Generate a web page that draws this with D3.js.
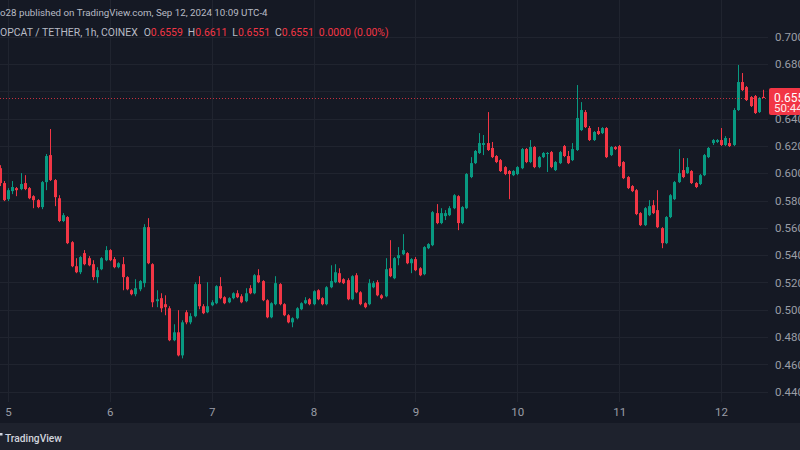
<!DOCTYPE html>
<html><head><meta charset="utf-8">
<script src="https://cdn.jsdelivr.net/npm/d3@7"></script>
<style>
html,body{margin:0;padding:0;background:#151924;}
svg{display:block;font-family:Roboto,"Noto Sans",sans-serif;}
</style></head>
<body><svg id="c" width="800" height="450"></svg>
<script>
// ---- data (POPCAT / TETHER, 1h, COINEX), first candle Sep 4 22:00 ----
const startHour = Date.UTC(2024, 8, 4, 22);
const opens = [0.6037,0.5928,0.5810,0.5869,0.5891,0.5884,0.5928,0.5891,0.5832,0.5803,0.5752,0.5935,0.6133,0.5950,0.5817,0.5650,0.5679,0.5495,0.5319,0.5275,0.5415,0.5378,0.5334,0.5239,0.5297,0.5363,
0.5437,0.5371,0.5312,0.5334,0.5239,0.5143,0.5114,0.5150,0.5195,0.5605,0.5334,0.5063,0.5085,0.5041,0.5011,0.4777,0.4835,0.4666,0.4982,0.4908,0.4953,0.5188,0.5026,0.4982,
0.5033,0.5048,0.5173,0.5092,0.5055,0.5085,0.5121,0.5099,0.5063,0.5158,0.5121,0.5253,0.5210,0.5070,0.4945,0.5041,0.5188,0.5041,0.4960,0.4908,0.4938,0.5004,0.5048,0.5077,
0.5041,0.5143,0.5085,0.5041,0.5165,0.5202,0.5268,0.5224,0.5217,0.5077,0.5253,0.5128,0.5048,0.5041,0.5165,0.5202,0.5106,0.5099,0.5304,0.5231,0.5378,0.5407,0.5415,0.5341,
0.5371,0.5304,0.5261,0.5451,0.5473,0.5708,0.5635,0.5686,0.5693,0.5744,0.5832,0.5635,0.5744,0.5972,0.6074,0.6148,0.6207,0.6221,0.6185,0.6126,0.6096,0.6045,0.6016,0.5986,
0.5994,0.6037,0.6177,0.6082,0.6192,0.6045,0.6118,0.6141,0.6155,0.6023,0.6074,0.6199,0.6126,0.6096,0.6170,0.6316,0.6448,0.6331,0.6243,0.6309,0.6294,0.6331,0.6133,0.6192,
0.6199,0.6082,0.5972,0.5906,0.5876,0.5708,0.5620,0.5693,0.5766,0.5730,0.5598,0.5488,0.5679,0.5810,0.5935,0.6023,0.6001,0.6016,0.5928,0.5921,0.5986,0.6118,0.6221,0.6229,
0.6243,0.6207,0.6221,0.6207,0.6463,0.6668,0.6631,0.6558,0.6565,0.6448,0.6559];
const highs = [0.6059,0.5943,0.5891,0.5943,0.5899,0.6001,0.5986,0.5899,0.5839,0.5810,0.5943,0.6141,0.6324,0.5957,0.5839,0.5708,0.5686,0.5503,0.5378,0.5393,0.5437,0.5393,0.5363,0.5312,0.5386,0.5466,
0.5444,0.5386,0.5348,0.5386,0.5246,0.5150,0.5224,0.5217,0.5627,0.5671,0.5341,0.5143,0.5121,0.5106,0.5026,0.4894,0.4997,0.4923,0.4997,0.4975,0.5202,0.5246,0.5041,0.5202,
0.5070,0.5180,0.5239,0.5099,0.5092,0.5128,0.5143,0.5114,0.5158,0.5180,0.5261,0.5297,0.5217,0.5077,0.5055,0.5246,0.5195,0.5048,0.4968,0.4945,0.5019,0.5055,0.5092,0.5085,
0.5143,0.5150,0.5092,0.5173,0.5326,0.5334,0.5304,0.5231,0.5231,0.5253,0.5268,0.5136,0.5055,0.5224,0.5210,0.5217,0.5114,0.5378,0.5510,0.5386,0.5459,0.5554,0.5422,0.5378,
0.5386,0.5312,0.5466,0.5488,0.5723,0.5774,0.5744,0.5730,0.5759,0.5847,0.5839,0.5759,0.6001,0.6118,0.6170,0.6294,0.6280,0.6448,0.6229,0.6133,0.6104,0.6052,0.6023,0.6023,
0.6052,0.6185,0.6185,0.6243,0.6199,0.6126,0.6155,0.6155,0.6163,0.6089,0.6163,0.6207,0.6163,0.6221,0.6646,0.6521,0.6463,0.6346,0.6309,0.6338,0.6338,0.6338,0.6199,0.6199,
0.6207,0.6089,0.5979,0.5913,0.5884,0.5715,0.5752,0.5803,0.5803,0.5876,0.5605,0.5686,0.5847,0.5943,0.6177,0.6111,0.6111,0.6023,0.5935,0.5994,0.6141,0.6192,0.6250,0.6250,
0.6331,0.6272,0.6258,0.6477,0.6793,0.6734,0.6639,0.6565,0.6573,0.6558,0.6611];
const lows = [0.5906,0.5796,0.5796,0.5847,0.5832,0.5876,0.5876,0.5810,0.5744,0.5744,0.5737,0.5876,0.5943,0.5759,0.5642,0.5642,0.5481,0.5312,0.5268,0.5261,0.5326,0.5319,0.5217,0.5195,0.5290,0.5356,
0.5356,0.5304,0.5304,0.5143,0.5143,0.5106,0.5099,0.5136,0.5165,0.5334,0.5019,0.5019,0.4982,0.4960,0.4770,0.4770,0.4659,0.4644,0.4894,0.4894,0.4945,0.5004,0.4968,0.4975,
0.5026,0.5041,0.5077,0.5041,0.5048,0.5077,0.5085,0.5048,0.5055,0.5114,0.5114,0.5195,0.5063,0.4938,0.4938,0.5033,0.5033,0.4953,0.4901,0.4872,0.4930,0.4997,0.5041,0.5033,
0.5033,0.5070,0.5033,0.5033,0.5158,0.5195,0.5195,0.5188,0.5070,0.5070,0.5121,0.5033,0.5011,0.5033,0.5158,0.5099,0.5077,0.5092,0.5239,0.5224,0.5326,0.5400,0.5334,0.5268,
0.5283,0.5246,0.5253,0.5444,0.5466,0.5627,0.5627,0.5657,0.5686,0.5737,0.5583,0.5627,0.5737,0.5964,0.6067,0.6141,0.6133,0.6163,0.6111,0.6074,0.6009,0.5986,0.5810,0.5979,
0.5986,0.6030,0.6074,0.6074,0.6037,0.6037,0.6111,0.6009,0.6037,0.6016,0.6067,0.6118,0.6067,0.6089,0.6163,0.6309,0.6331,0.6236,0.6236,0.6280,0.6287,0.6111,0.6126,0.6170,
0.6045,0.5957,0.5884,0.5862,0.5693,0.5613,0.5613,0.5686,0.5701,0.5598,0.5451,0.5481,0.5671,0.5803,0.5928,0.5964,0.5994,0.5921,0.5891,0.5913,0.5979,0.6111,0.6207,0.6221,
0.6199,0.6199,0.6192,0.6199,0.6456,0.6602,0.6529,0.6485,0.6434,0.6441,0.6551];
const closes = [0.5928,0.5803,0.5876,0.5899,0.5876,0.5921,0.5884,0.5817,0.5803,0.5752,0.5935,0.6126,0.5950,0.5825,0.5650,0.5693,0.5488,0.5319,0.5275,0.5386,0.5334,0.5326,0.5239,0.5290,0.5378,0.5437,
0.5363,0.5312,0.5341,0.5239,0.5150,0.5114,0.5158,0.5210,0.5605,0.5341,0.5055,0.5077,0.5011,0.5019,0.4777,0.4835,0.4666,0.4908,0.4908,0.4953,0.5188,0.5026,0.4975,0.5026,
0.5055,0.5173,0.5085,0.5048,0.5085,0.5121,0.5092,0.5055,0.5121,0.5121,0.5253,0.5202,0.5070,0.4945,0.5048,0.5195,0.5041,0.4960,0.4908,0.4938,0.5011,0.5048,0.5070,0.5041,
0.5136,0.5077,0.5041,0.5165,0.5210,0.5275,0.5202,0.5195,0.5077,0.5246,0.5128,0.5041,0.5019,0.5195,0.5195,0.5106,0.5085,0.5297,0.5246,0.5378,0.5400,0.5437,0.5341,0.5371,
0.5290,0.5253,0.5459,0.5481,0.5715,0.5635,0.5708,0.5708,0.5744,0.5839,0.5635,0.5752,0.5994,0.6074,0.6163,0.6221,0.6221,0.6170,0.6118,0.6082,0.6016,0.5994,0.5994,0.6016,
0.6045,0.6177,0.6082,0.6192,0.6045,0.6118,0.6148,0.6148,0.6045,0.6082,0.6155,0.6126,0.6074,0.6177,0.6404,0.6463,0.6338,0.6243,0.6302,0.6287,0.6331,0.6118,0.6192,0.6177,
0.6052,0.5964,0.5891,0.5869,0.5701,0.5620,0.5744,0.5759,0.5708,0.5605,0.5488,0.5679,0.5839,0.5935,0.6001,0.5972,0.6045,0.5928,0.5899,0.5986,0.6133,0.6185,0.6243,0.6243,
0.6207,0.6258,0.6199,0.6463,0.6668,0.6609,0.6536,0.6492,0.6441,0.6551,0.6551];
const yTicks = [0.44,0.46,0.48,0.50,0.52,0.54,0.56,0.58,0.60,0.62,0.64,0.66,0.68,0.70];
const dayTicks = [5,6,7,8,9,10,11,12];
const lastPrice = 0.6551;
const countdown = "50:44";
const headerTop = "o28 published on TradingView.com, Sep 12, 2024 10:09 UTC-4";
const symbolText = "OPCAT / TETHER, 1h, COINEX";
const ohlcLabels = ["O","H","L","C"];
const ohlcValues = ["0.6559","0.6611","0.6551","0.6551"];
const changeText = "0.0000 (0.00%)";

// ---- build ----
const W = 800, H = 450;
const GREEN = "#089981", RED = "#f23645";
const svg = d3.select("#c");
svg.append("rect").attr("width", W).attr("height", H).attr("fill", "#151924");

const candles = opens.map((o, i) => ({
  t: new Date(startHour + i * 3600e3), o, h: highs[i], l: lows[i], c: closes[i]
}));

const x = d3.scaleUtc()
  .domain([new Date(Date.UTC(2024, 8, 5)), new Date(Date.UTC(2024, 8, 12))])
  .range([8, 721]);
const y = d3.scaleLinear().domain([0.44, 0.70]).range([391.7, 36.7]);
const plotRight = 768;

// grid
const grid = svg.append("g").attr("stroke", "#20242f").attr("stroke-width", 1);
grid.selectAll("line.h").data(yTicks).join("line")
  .attr("x1", 0).attr("x2", plotRight)
  .attr("y1", d => Math.round(y(d)) + 0.5).attr("y2", d => Math.round(y(d)) + 0.5);
const dayDates = dayTicks.map(d => new Date(Date.UTC(2024, 8, d)));
grid.selectAll("line.v").data(dayDates).join("line")
  .attr("y1", 0).attr("y2", 402)
  .attr("x1", d => Math.round(x(d)) + 0.5).attr("x2", d => Math.round(x(d)) + 0.5);

// candles
const cg = svg.append("g");
const col = d => d.c >= d.o ? GREEN : RED;
cg.selectAll("line.w").data(candles).join("line")
  .attr("x1", d => Math.round(x(d.t)) + 0.5).attr("x2", d => Math.round(x(d.t)) + 0.5)
  .attr("y1", d => y(d.h)).attr("y2", d => y(d.l))
  .attr("stroke", col).attr("stroke-width", 1);
cg.selectAll("rect.b").data(candles).join("rect")
  .attr("x", d => Math.round(x(d.t)) - 1).attr("width", 3)
  .attr("y", d => y(Math.max(d.o, d.c)))
  .attr("height", d => Math.max(1, Math.abs(y(d.o) - y(d.c))))
  .attr("fill", col);

// last price dotted line
svg.append("line").attr("x1", 0).attr("x2", plotRight)
  .attr("y1", Math.round(y(lastPrice)) + 0.5).attr("y2", Math.round(y(lastPrice)) + 0.5)
  .attr("stroke", RED).attr("stroke-width", 1).attr("stroke-dasharray", "1,2").attr("opacity", 0.8);

// y axis (labels hidden behind the price box are dropped, like the reference)
const ly = y(lastPrice);
const yAxis = d3.axisRight(y).tickValues(yTicks).tickFormat(d3.format(".3f")).tickSize(0).tickPadding(7);
const ya = svg.append("g").attr("transform", `translate(${plotRight},0)`).call(yAxis);
ya.select(".domain").remove();
ya.selectAll("text").attr("fill", "#9a9da6").attr("font-size", 11.5).attr("font-family", "Roboto,sans-serif");

// x axis
const xAxis = d3.axisBottom(x).tickValues(dayDates).tickFormat(d3.utcFormat("%-d")).tickSize(0).tickPadding(6);
const xa = svg.append("g").attr("transform", "translate(0,402)").call(xAxis);
xa.select(".domain").remove();
xa.selectAll("text").attr("fill", "#9a9da6").attr("font-size", 11.5).attr("font-family", "Roboto,sans-serif");

// last price label
svg.append("rect").attr("x", plotRight + 1).attr("y", ly - 10).attr("width", W - plotRight).attr("height", 27)
  .attr("fill", RED).attr("rx", 2);
svg.append("text").attr("x", plotRight + 6).attr("y", ly + 4).attr("fill", "#ffffff")
  .attr("font-size", 12).text(lastPrice.toFixed(4));
svg.append("text").attr("x", plotRight + 6).attr("y", ly + 14).attr("fill", "#ffffff").attr("opacity", 0.9)
  .attr("font-size", 11.5).text(countdown);

// header
const h1 = svg.append("text").attr("x", 0).attr("y", 16).attr("fill", "#b8bbc4").attr("font-size", 12).text(headerTop);
const fit = (sel, target) => { const w = sel.node().getComputedTextLength(); const fs = +sel.attr("font-size"); sel.attr("font-size", fs * target / w); };
fit(h1, 268);
const h2 = svg.append("text").attr("x", 0).attr("y", 36).attr("font-size", 12).attr("fill", "#b8bbc4");
h2.append("tspan").text(symbolText);
ohlcLabels.forEach((lab, i) => {
  h2.append("tspan").attr("dx", i === 0 ? 6 : 5).attr("fill", "#b8bbc4").text(lab);
  h2.append("tspan").attr("fill", RED).text(ohlcValues[i]);
});
h2.append("tspan").attr("dx", 5).attr("fill", RED).text(changeText);
fit(h2, 363);

// bottom bar
svg.append("rect").attr("x", 0).attr("y", 423).attr("width", W).attr("height", H - 423).attr("fill", "#1e222d");
svg.append("path").attr("d", "M0,433 h2.5 v2.5 h-2.5 Z").attr("fill", "#d1d4dc");
const tv = svg.append("text").attr("x", 5).attr("y", 442).attr("fill", "#d1d4dc").attr("font-size", 12)
  .attr("font-weight", 500).text("TradingView");
fit(tv, 57);
</script></body></html>
